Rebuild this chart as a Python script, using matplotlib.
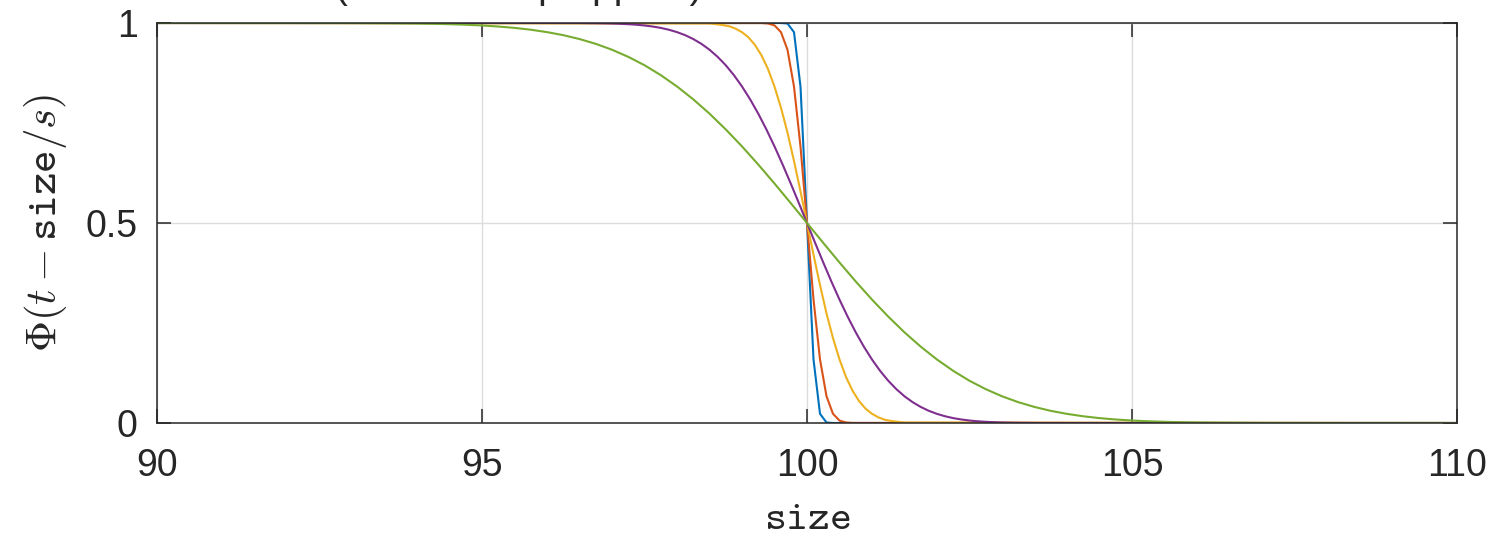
import numpy as np
import matplotlib
matplotlib.use("Agg")
import matplotlib.pyplot as plt

plt.rcParams['font.family'] = ['Liberation Sans', 'DejaVu Sans']
plt.rcParams['mathtext.fontset'] = 'cm'

# values (Phi((100 - size)/s) for several s)
x_blue = [90, 99.6, 99.7, 99.8, 99.9, 100.0, 100.1, 100.2, 100.3, 100.4, 110]
y_blue = [1.0, 1.0, 0.9987, 0.977, 0.841, 0.5, 0.159, 0.023, 0.0013, 0.0, 0.0]

x_red = [90, 99.3, 99.4, 99.5, 99.6, 99.7, 99.8, 99.9, 100.0,
         100.1, 100.2, 100.3, 100.4, 100.5, 100.6, 100.7, 110]
y_red = [1.0, 0.9998, 0.9987, 0.994, 0.977, 0.933, 0.841, 0.691, 0.5,
         0.309, 0.159, 0.067, 0.023, 0.006, 0.0013, 0.0002, 0.0]

x_yellow = [90] + [round(98.5 + 0.1 * i, 1) for i in range(31)] + [110]
y_yellow = [1.0,
            0.9987, 0.997, 0.995, 0.992, 0.986, 0.977, 0.964, 0.945, 0.919, 0.885,
            0.841, 0.788, 0.726, 0.655, 0.579, 0.5, 0.421, 0.345, 0.274, 0.212,
            0.159, 0.115, 0.081, 0.055, 0.036, 0.023, 0.014, 0.008, 0.005, 0.003,
            0.0013,
            0.0]

# shared shape for the two wide curves (upper half, from the far left to the middle)
upper_half = [1.0, 0.9999, 0.9999, 0.9999, 0.9998, 0.9996, 0.9994, 0.9991,
              0.9987, 0.9980, 0.9970, 0.9957, 0.9938, 0.9912, 0.9878, 0.9832,
              0.9772, 0.9696, 0.9599, 0.9479, 0.9332, 0.9154, 0.8944, 0.8697,
              0.8413, 0.8092, 0.7734, 0.7340, 0.6915, 0.6462, 0.5987, 0.5497]
wide_shape = upper_half + [0.5] + [round(1 - v, 4) for v in upper_half[::-1]]

x_purple = [90] + [96 + 0.125 * i for i in range(65)] + [110]
y_purple = [1.0] + wide_shape + [0.0]

x_green = [90, 91] + [92 + 0.25 * i for i in range(65)] + [109, 110]
y_green = [1.0, 1.0] + wide_shape + [0.0, 0.0]

series = [
    (x_blue, y_blue, '#0072BD'),
    (x_red, y_red, '#D95319'),
    (x_yellow, y_yellow, '#EDB120'),
    (x_purple, y_purple, '#7E2F8E'),
    (x_green, y_green, '#77AC30'),
]

xticks = [90, 95, 100, 105, 110]
yticks = [0, 0.5, 1]
yticklabels = ['0', '0.5', '1']

fig = plt.figure(figsize=(14.92, 5.36), dpi=100)
ax = fig.add_axes([157 / 1492, 113 / 536, 1300 / 1492, 400 / 536])

for xs, ys, c in series:
    ax.plot(xs, ys, color=c, linewidth=1.5)

ax.set_xlim(90, 110)
ax.set_ylim(0, 1)
ax.set_xticks(xticks)
ax.set_xticklabels([str(t) for t in xticks])
ax.set_yticks(yticks)
ax.set_yticklabels(yticklabels)

ax.grid(True, color='#dcdcdc', linewidth=1.0)
ax.set_axisbelow(True)
for sp in ax.spines.values():
    sp.set_color('#262626')
    sp.set_linewidth(1.1)
ax.tick_params(direction='in', length=10, width=1.1, colors='#262626',
               top=True, right=True, labelsize=27, pad=14)
ax.tick_params(axis='x', pad=18)

ax.set_xlabel(r'$\mathtt{size}$', fontsize=30, color='#262626', labelpad=10)
ax.set_ylabel(r'$\Phi(t - \mathtt{size}/s)$', fontsize=31, color='#262626', labelpad=12)

# title mostly cut off at the top edge in the reference
fig.text(0.555, 1 + 2 / 536, '(smooth step approx) with t = 100 and various values of s',
         ha='center', va='baseline', fontsize=28, color='#262626')

fig.savefig('out.png', dpi=100)
